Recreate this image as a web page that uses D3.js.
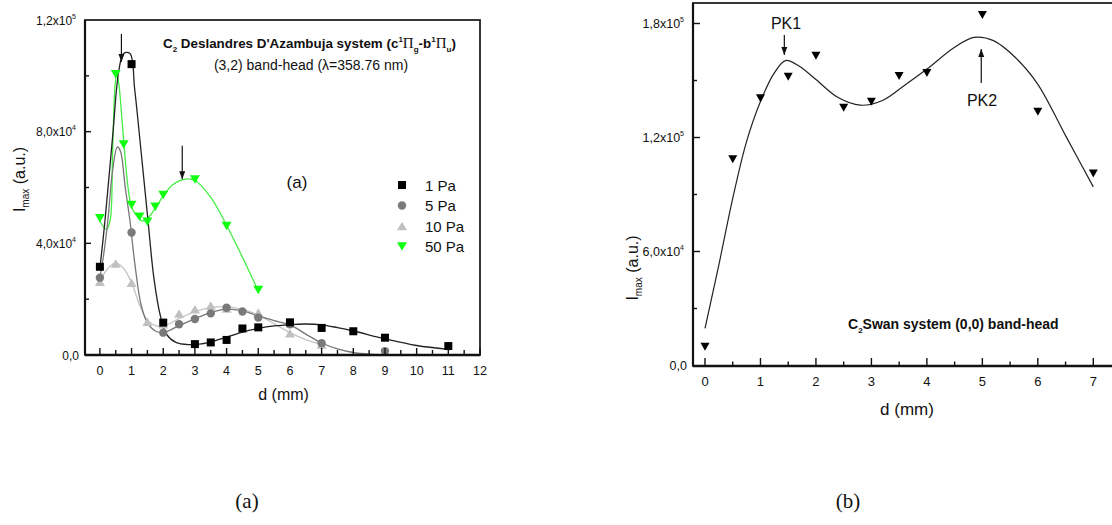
<!DOCTYPE html>
<html><head><meta charset="utf-8">
<script src="https://cdn.jsdelivr.net/npm/d3@7"></script>
<style>
html,body{margin:0;padding:0;background:#fff;}
svg{display:block;}
text{font-family:"Liberation Sans",Arial,sans-serif;fill:#111;}
</style></head>
<body>
<svg id="chart" width="1112" height="525"></svg>
<script>
// ---------------- DATA (panel a) ----------------
const seriesNames = ["1 Pa", "5 Pa", "10 Pa", "50 Pa"];
const pa1Points = [[0,31600],[1,104200],[2,11600],[3,3900],[3.5,4500],[4,5400],[4.5,9500],[5,9900],[6,11700],[7,9700],[8,8500],[9,6200],[11,3200]];
const pa5Points = [[0,27700],[1,43900],[2,8000],[2.5,11000],[3,12900],[3.5,14900],[4,16900],[4.5,15600],[5,13400],[6,11000],[7,4200],[9,1400]];
const pa10Points = [[0,26200],[0.5,32800],[1,25900],[1.5,11900],[2,11000],[2.5,14900],[3,16400],[3.5,17700],[4,16700],[5,15200],[6,7800],[7,3800]];
const pa50Points = [[0,49000],[0.5,100600],[0.75,75400],[1,53700],[1.25,49500],[1.5,47700],[1.75,53100],[2,57300],[3,62900],[4,46200],[5,23300]];
// fitted curves
const pa1Fit = [[0,31000],[0.16,48000],[0.4,78000],[0.6,102000],[0.75,108000],[0.95,108000],[1.1,95000],[1.3,73000],[1.52,48000],[1.7,28000],[1.9,14500],[2.1,7500],[2.4,4500],[2.8,3700],[3.2,4000],[3.6,5000],[4,6400],[4.5,8200],[5,9500],[5.5,10400],[6,10900],[6.5,11100],[7,10800],[7.5,9800],[8,8600],[9,5800],[10,3400],[11,2000]];
const pa5Fit = [[0,27700],[0.12,36000],[0.25,48000],[0.4,66000],[0.55,74500],[0.65,73000],[0.8,60000],[0.95,48000],[1.1,33000],[1.3,18000],[1.5,11500],[1.75,8600],[2,8000],[2.5,10500],[3,13000],[3.5,15200],[4,16400],[4.5,15800],[5,14000],[5.5,12300],[6,10800],[6.5,7500],[7,4300],[7.5,2200],[8,900],[8.5,300],[9,100]];
const pa10Fit = [[0,26500],[0.25,31000],[0.5,33000],[0.75,31000],[1,26000],[1.25,18000],[1.5,12500],[1.75,10500],[2,10300],[2.5,13000],[3,15500],[3.5,17000],[4,17300],[4.5,16300],[5,14300],[5.5,11200],[6,8000],[6.5,5500],[7,3800]];
const pa50Fit = [[0,48000],[0.2,45000],[0.32,48000],[0.4,72000],[0.47,95000],[0.53,101000],[0.6,97000],[0.7,84000],[0.8,70000],[0.9,59000],[1,53000],[1.15,50000],[1.35,48000],[1.55,49500],[1.8,53500],[2,57000],[2.3,61000],[2.7,63000],[3,62500],[3.5,56500],[4,46500],[4.5,35000],[5,23000]];
const leftXTicks = [0,1,2,3,4,5,6,7,8,9,10,11,12];
const leftYTicks = [0, 40000, 80000, 120000];
const leftYTickLabels = [["0,0",""],["4,0x10","4"],["8,0x10","4"],["1,2x10","5"]];
const leftArrowsD = [[0.68, 105000, 115000], [2.6, 63000, 75000]];

// ---------------- DATA (panel b) ----------------
const swanPoints = [[0,9900],[0.5,108500],[1,140600],[1.5,152000],[2,163000],[2.5,135700],[3,138800],[3.5,152400],[4,154000],[5,184500],[6,133600],[7,101000]];
const swanFit = [[0,19600],[0.25,53000],[0.5,88000],[0.75,118000],[1,139000],[1.25,154000],[1.45,160500],[1.7,157500],[2,150500],[2.4,141000],[2.8,137000],[3.2,139500],[3.6,147500],[4,156000],[4.5,167500],[4.85,172700],[5.2,171000],[5.6,162000],[6,148000],[6.5,121000],[7,94000]];
const rightXTicks = [0,1,2,3,4,5,6,7];
const rightYTicks = [0, 60000, 120000, 180000];
const rightYTickLabels = [["0,0",""],["6,0x10","4"],["1,2x10","5"],["1,8x10","5"]];

const svg = d3.select("#chart");

function arrow(g, x, y1, y2, headDown) {
  g.append("line").attr("x1",x).attr("x2",x).attr("y1",y1).attr("y2",y2).attr("stroke","#111").attr("stroke-width",1.2);
  const tip = headDown ? y2 : y1, dir = headDown ? -1 : 1;
  g.append("path").attr("d",`M${x},${tip} L${x-3},${tip+dir*8} L${x+3},${tip+dir*8} Z`).attr("fill","#111");
}
function downTri(w,h){ return `M${-w/2},${-h/2} L${w/2},${-h/2} L0,${h/2} Z`; }
function upTri(w,h){ return `M${-w/2},${h/2} L${w/2},${h/2} L0,${-h/2} Z`; }

// ============ PANEL A ============
{
  const L=85, R=480, T=20, B=355;
  const x = d3.scaleLinear().domain([-0.47, 12]).range([L, R]);
  const y = d3.scaleLinear().domain([0, 120000]).range([B, T]);
  const g = svg.append("g");
  const line = d3.line().x(d=>x(d[0])).y(d=>y(d[1])).curve(d3.curveCatmullRom.alpha(0.5));

  const styles = [
    {fit:pa1Fit, pts:pa1Points, stroke:"#222", fill:"#000", shape:"square"},
    {fit:pa5Fit, pts:pa5Points, stroke:"#777", fill:"#7a7a7a", shape:"circle"},
    {fit:pa10Fit, pts:pa10Points, stroke:"#c4c4c4", fill:"#c0c0c0", shape:"up"},
    {fit:pa50Fit, pts:pa50Points, stroke:"#44ee44", fill:"#11ff11", shape:"down"}
  ];
  function marker(sel, shape, fill) {
    if (shape==="square") sel.append("rect").attr("x",-4).attr("y",-4).attr("width",8).attr("height",8).attr("fill",fill);
    else if (shape==="circle") sel.append("circle").attr("r",4.2).attr("fill",fill);
    else if (shape==="up") sel.append("path").attr("d",upTri(10,8.5)).attr("fill",fill);
    else sel.append("path").attr("d",downTri(10,8.5)).attr("fill",fill);
  }
  [3,2,1,0].forEach(i=>{
    const s=styles[i];
    g.append("path").datum(s.fit).attr("d",line).attr("fill","none").attr("stroke",s.stroke).attr("stroke-width",1.3);
  });
  [2,1,3,0].forEach(i=>{
    const s=styles[i];
    s.pts.forEach(p=>{
      const m=g.append("g").attr("transform",`translate(${x(p[0])},${y(p[1])})`);
      marker(m, s.shape, s.fill);
    });
  });

  g.append("rect").attr("x",L).attr("y",T).attr("width",R-L).attr("height",B-T).attr("fill","none").attr("stroke","#222").attr("stroke-width",1.8);
  g.append("line").attr("x1",L).attr("x2",R).attr("y1",B).attr("y2",B).attr("stroke","#111").attr("stroke-width",2.6);
  g.append("line").attr("x1",L).attr("x2",L).attr("y1",T).attr("y2",B).attr("stroke","#111").attr("stroke-width",2.2);

  d3.range(0, 12.01, 0.5).forEach(v=>{
    const major = Number.isInteger(v);
    g.append("line").attr("x1",x(v)).attr("x2",x(v)).attr("y1",B).attr("y2",B-(major?7:5)).attr("stroke","#111").attr("stroke-width",1.4);
  });
  leftXTicks.forEach(v=>{
    g.append("text").attr("x",x(v)).attr("y",B+20).attr("text-anchor","middle").attr("font-size",12.5).text(v);
  });
  d3.range(0, 120001, 20000).forEach(v=>{
    if (v===0||v===120000) return;
    g.append("line").attr("x1",L).attr("x2",L+(v%40000===0?6:4)).attr("y1",y(v)).attr("y2",y(v)).attr("stroke","#111").attr("stroke-width",1.4);
  });
  leftYTicks.forEach((v,i)=>{
    const lab = leftYTickLabels[i];
    const t = g.append("text").attr("x", lab[1]? L-9 : L-6).attr("y",y(v)+4.5).attr("text-anchor","end").attr("font-size",12);
    t.append("tspan").text(lab[0]);
    if (lab[1]) t.append("tspan").attr("font-size",7).attr("dy",-6).text(lab[1]);
  });
  g.append("text").attr("x",x(5.8)).attr("y",400).attr("text-anchor","middle").attr("font-size",16).text("d (mm)");
  const yl = g.append("text").attr("transform",`translate(25,${(T+B)/2-8}) rotate(-90)`).attr("text-anchor","middle").attr("font-size",16);
  yl.append("tspan").text("I");
  yl.append("tspan").attr("font-size",10).attr("dy",4).text("max");
  yl.append("tspan").attr("dy",-4).text(" (a.u.)");

  const t1 = g.append("text").attr("x",163).attr("y",48).attr("font-size",13.4).attr("font-weight","bold");
  t1.append("tspan").text("C");
  t1.append("tspan").attr("font-size",8).attr("dy",4).text("2");
  t1.append("tspan").attr("dy",-4).text(" Deslandres D'Azambuja system  (c");
  t1.append("tspan").attr("font-size",8).attr("dy",-6).text("1");
  t1.append("tspan").attr("dy",6).attr("font-weight","normal").style("font-family","'Liberation Serif',serif").attr("font-size",15).text("Π");
  t1.append("tspan").attr("font-size",8).attr("dy",4).text("g");
  t1.append("tspan").attr("dy",-4).text("-b");
  t1.append("tspan").attr("font-size",8).attr("dy",-6).text("1");
  t1.append("tspan").attr("dy",6).attr("font-weight","normal").style("font-family","'Liberation Serif',serif").attr("font-size",15).text("Π");
  t1.append("tspan").attr("font-size",8).attr("dy",4).text("u");
  t1.append("tspan").attr("dy",-4).text(")");
  g.append("text").attr("x",311).attr("y",70).attr("text-anchor","middle").attr("font-size",14).text("(3,2) band-head (λ=358.76 nm)");
  g.append("text").attr("x",297).attr("y",188).attr("text-anchor","middle").attr("font-size",17).text("(a)");

  seriesNames.forEach((n,i)=>{
    const yy = 185 + i*20.5;
    const m = g.append("g").attr("transform",`translate(402,${yy})`);
    marker(m, styles[i].shape, styles[i].fill);
    g.append("text").attr("x",425).attr("y",yy+5.5).attr("font-size",15).text(n);
  });
  leftArrowsD.forEach(a=>{ arrow(g, x(a[0]), y(a[2]), y(a[1]), true); });
  svg.append("text").attr("x",247).attr("y",508).attr("text-anchor","middle").attr("font-size",21).style("font-family","'Liberation Serif',serif").text("(a)");
}

// ============ PANEL B ============
{
  const L=693, R=1116, T=3, B=366;
  const x = d3.scaleLinear().domain([0, 7]).range([705, 1093.3]);
  const y = d3.scaleLinear().domain([0, 180000]).range([365.5, 23.5]);
  const g = svg.append("g");
  const line = d3.line().x(d=>x(d[0])).y(d=>y(d[1])).curve(d3.curveCatmullRom.alpha(0.5));
  g.append("path").datum(swanFit).attr("d",line).attr("fill","none").attr("stroke","#222").attr("stroke-width",1.2);
  swanPoints.forEach(p=>{
    g.append("path").attr("transform",`translate(${x(p[0])},${y(p[1])})`).attr("d",downTri(9,8)).attr("fill","#000");
  });
  g.append("rect").attr("x",L).attr("y",T).attr("width",R-L).attr("height",B-T).attr("fill","none").attr("stroke","#222").attr("stroke-width",1.8);
  g.append("line").attr("x1",L).attr("x2",R).attr("y1",B).attr("y2",B).attr("stroke","#111").attr("stroke-width",2.6);
  g.append("line").attr("x1",L).attr("x2",L).attr("y1",T).attr("y2",B).attr("stroke","#111").attr("stroke-width",2.2);
  d3.range(0, 7.6, 0.5).forEach(v=>{
    const major = Number.isInteger(v);
    g.append("line").attr("x1",x(v)).attr("x2",x(v)).attr("y1",B).attr("y2",B-(major?8:4.5)).attr("stroke","#111").attr("stroke-width",1.4);
  });
  rightXTicks.forEach(v=>{
    g.append("text").attr("x",x(v)).attr("y",386).attr("text-anchor","middle").attr("font-size",13).text(v);
  });
  d3.range(30000, 180001, 30000).forEach(v=>{
    g.append("line").attr("x1",L).attr("x2",L+(v%60000===0?7:4)).attr("y1",y(v)).attr("y2",y(v)).attr("stroke","#111").attr("stroke-width",1.4);
  });
  rightYTicks.forEach((v,i)=>{
    const lab = rightYTickLabels[i];
    const t = g.append("text").attr("x", lab[1]? L-9 : L-6).attr("y",y(v)+4.5).attr("text-anchor","end").attr("font-size",12.5);
    t.append("tspan").text(lab[0]);
    if (lab[1]) t.append("tspan").attr("font-size",7).attr("dy",-6).text(lab[1]);
  });
  g.append("text").attr("x",907).attr("y",415).attr("text-anchor","middle").attr("font-size",17).text("d (mm)");
  const yl = g.append("text").attr("transform",`translate(638,268) rotate(-90)`).attr("text-anchor","middle").attr("font-size",16);
  yl.append("tspan").text("I");
  yl.append("tspan").attr("font-size",10).attr("dy",4).text("max");
  yl.append("tspan").attr("dy",-4).text(" (a.u.)");

  const t2 = g.append("text").attr("x",848).attr("y",329).attr("font-size",14).attr("font-weight","bold");
  t2.append("tspan").text("C");
  t2.append("tspan").attr("font-size",8).attr("dy",4).text("2");
  t2.append("tspan").attr("dy",-4).text("Swan system (0,0) band-head");

  g.append("text").attr("x",786).attr("y",29).attr("text-anchor","middle").attr("font-size",16).text("PK1");
  arrow(g, x(1.43), 35, 55, true);
  g.append("text").attr("x",982).attr("y",106).attr("text-anchor","middle").attr("font-size",16).text("PK2");
  arrow(g, x(4.98), 49, 83, false);
  svg.append("text").attr("x",848).attr("y",508).attr("text-anchor","middle").attr("font-size",21).style("font-family","'Liberation Serif',serif").text("(b)");
}
</script>
</body></html>
